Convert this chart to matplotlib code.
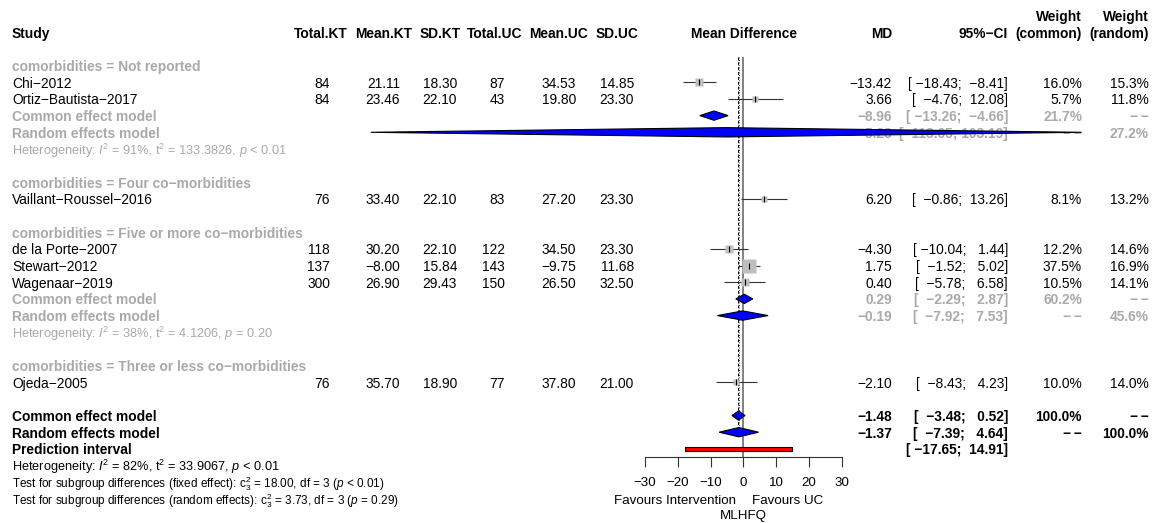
import numpy as np
import matplotlib.pyplot as plt
from matplotlib.patches import Polygon, Rectangle

plt.rcParams['font.family'] = ['Liberation Sans', 'DejaVu Sans']
plt.rcParams['mathtext.fontset'] = 'custom'
plt.rcParams['mathtext.rm'] = 'Liberation Sans'
plt.rcParams['mathtext.it'] = 'Liberation Sans:italic'
plt.rcParams['mathtext.bf'] = 'Liberation Sans:bold'

MINUS = '\u2212'
NONE = MINUS + '\u2009' + MINUS

# individual studies
study = ['Chi-2012', 'Ortiz-Bautista-2017', 'Vaillant-Roussel-2016', 'de la Porte-2007',
         'Stewart-2012', 'Wagenaar-2019', 'Ojeda-2005']
subgroup = ['Not reported', 'Not reported', 'Four co-morbidities',
            'Five or more co-morbidities', 'Five or more co-morbidities',
            'Five or more co-morbidities', 'Three or less co-morbidities']
total_kt = [84, 84, 76, 118, 137, 300, 76]
mean_kt = [21.11, 23.46, 33.40, 30.20, -8.00, 26.90, 35.70]
sd_kt = [18.30, 22.10, 22.10, 22.10, 15.84, 29.43, 18.90]
total_uc = [87, 43, 83, 122, 143, 150, 77]
mean_uc = [34.53, 19.80, 27.20, 34.50, -9.75, 26.50, 37.80]
sd_uc = [14.85, 23.30, 23.30, 23.30, 11.68, 32.50, 21.00]
md = [-13.42, 3.66, 6.20, -4.30, 1.75, 0.40, -2.10]
ci_lo = [-18.43, -4.76, -0.86, -10.04, -1.52, -5.78, -8.43]
ci_hi = [-8.41, 12.08, 13.26, 1.44, 5.02, 6.58, 4.23]
w_common = [16.0, 5.7, 8.1, 12.2, 37.5, 10.5, 10.0]
w_random = [15.3, 11.8, 13.2, 14.6, 16.9, 14.1, 14.0]

group_order = ['Not reported', 'Four co-morbidities', 'Five or more co-morbidities',
               'Three or less co-morbidities']

# pooled estimates within subgroups that have more than one study
sg_names = ['Not reported', 'Five or more co-morbidities']
sg_com_md = [-8.96, 0.29]
sg_com_lo = [-13.26, -2.29]
sg_com_hi = [-4.66, 2.87]
sg_com_w = [21.7, 60.2]
sg_ran_md = [-5.23, -0.19]
sg_ran_lo = [-113.65, -7.92]
sg_ran_hi = [103.19, 7.53]
sg_ran_w = [27.2, 45.6]
sg_i2 = [91, 38]
sg_tau2 = ['133.3826', '4.1206']
sg_p = ['< 0.01', '= 0.20']

# overall
com_md, com_lo, com_hi = -1.48, -3.48, 0.52
ran_md, ran_lo, ran_hi = -1.37, -7.39, 4.64
pred_lo, pred_hi = -17.65, 14.91
het_i2, het_tau2, het_p = 82, '33.9067', '< 0.01'
q_fixed, q_fixed_p = '18.00', '< 0.01'
q_random, q_random_p = '3.73', '= 0.29'
q_df = 3

xticks = [-30, -20, -10, 0, 10, 20, 30]

FS = 9.9
FS_HET = 9.2
FS_TEST = 8.5
GREY = '#a9a9a9'
W, H = 1156, 523


def m(s):
    return s.replace('-', MINUS)


def num(v):
    return m(f'{v:.2f}')


def ci(lo, hi):
    return '[' + num(lo).rjust(7) + '; ' + num(hi).rjust(6) + ']'


def pct(v):
    return f'{v:.1f}%'


fig = plt.figure(figsize=(W / 100, H / 100), dpi=100)
row_top = -1.94
row_bot = 29.45

tx = fig.add_axes([0, 0, 1, 1])
tx.set_xlim(0, W)
tx.set_ylim(row_bot, row_top)
tx.axis('off')

x0, x1 = 645.0, 841.7
fx = fig.add_axes([x0 / W, 0, (x1 - x0) / W, 1])
fx.set_xlim(-30, 30)
fx.set_ylim(row_bot, row_top)
fx.patch.set_visible(False)
for s in ['top', 'left', 'right']:
    fx.spines[s].set_visible(False)
fx.set_yticks([])


def put(x, y, s, ha='right', color='black', weight='normal', size=FS):
    tx.text(x, y + 0.08, s, ha=ha, va='center', color=color, fontweight=weight, fontsize=size)


# column headers
put(12, 0, 'Study', ha='left', weight='bold')
heads = [('Total.KT', 320.5), ('Mean.KT', 384), ('SD.KT', 440), ('Total.UC', 495),
         ('Mean.UC', 559), ('SD.UC', 617), ('Mean Difference', 744)]
for h, xc in heads:
    put(xc, 0, h, ha='center', weight='bold')
put(892, 0, 'MD', weight='bold')
put(1008, 0, m('95%-CI'), weight='bold')
put(1082, -0.98, 'Weight', weight='bold')
put(1082, 0, '(common)', weight='bold')
put(1149, -0.98, 'Weight', weight='bold')
put(1149, 0, '(random)', weight='bold')

cols_r = [330, 400, 457, 505, 576, 634]
X_MD, X_CI, X_WC, X_WR = 892, 1008, 1082, 1149

sq_max = 9.6
wmax = max(w_common)


def diamond(y, est, lo, hi, h=0.28):
    fx.add_patch(Polygon([(lo, y), (est, y - h), (hi, y), (est, y + h)], closed=True,
                         facecolor='blue', edgecolor='black', lw=0.8, clip_on=False, zorder=4))


row = 2
for g in group_order:
    put(12, row, 'comorbidities = ' + m(g), ha='left', color=GREY, weight='bold')
    row += 1
    idx = [i for i, s in enumerate(subgroup) if s == g]
    for i in idx:
        put(12, row, m(study[i]), ha='left')
        vals = [str(total_kt[i]), num(mean_kt[i]), num(sd_kt[i]),
                str(total_uc[i]), num(mean_uc[i]), num(sd_uc[i])]
        for xr, v in zip(cols_r, vals):
            put(xr, row, v)
        put(X_MD, row, num(md[i]))
        put(X_CI, row, ci(ci_lo[i], ci_hi[i]))
        put(X_WC, row, pct(w_common[i]))
        put(X_WR, row, pct(w_random[i]))
        fx.hlines(row, ci_lo[i], ci_hi[i], color='#333333', lw=0.8, zorder=2)
        fx.plot(md[i], row, 's', ms=sq_max * np.sqrt(w_common[i] / wmax),
                color='#bebebe', mec='none', zorder=3)
        fx.plot(md[i], row, '|', ms=4, mew=0.8, color='black', zorder=3)
        row += 1
    if g in sg_names:
        k = sg_names.index(g)
        put(12, row, 'Common effect model', ha='left', color=GREY, weight='bold')
        put(X_MD, row, num(sg_com_md[k]), color=GREY, weight='bold')
        put(X_CI, row, ci(sg_com_lo[k], sg_com_hi[k]), color=GREY, weight='bold')
        put(X_WC, row, pct(sg_com_w[k]), color=GREY, weight='bold')
        put(X_WR, row, NONE, color=GREY, weight='bold')
        diamond(row, sg_com_md[k], sg_com_lo[k], sg_com_hi[k])
        row += 1
        put(12, row, 'Random effects model', ha='left', color=GREY, weight='bold')
        put(X_MD, row, num(sg_ran_md[k]), color=GREY, weight='bold')
        put(X_CI, row, ci(sg_ran_lo[k], sg_ran_hi[k]), color=GREY, weight='bold')
        put(X_WC, row, NONE, color=GREY, weight='bold')
        put(X_WR, row, pct(sg_ran_w[k]), color=GREY, weight='bold')
        diamond(row, sg_ran_md[k], sg_ran_lo[k], sg_ran_hi[k])
        row += 1
        put(12, row + 0.05, f'Heterogeneity: $\\mathit{{I}}^2$ = {sg_i2[k]}%, '
            f'$\\mathrm{{t}}^2$ = {sg_tau2[k]}, $\\mathit{{p}}$ {sg_p[k]}',
            ha='left', color=GREY, size=FS_HET)
        row += 1
    row += 1

# overall pooled results
put(12, row, 'Common effect model', ha='left', weight='bold')
put(X_MD, row, num(com_md), weight='bold')
put(X_CI, row, ci(com_lo, com_hi), weight='bold')
put(X_WC, row, pct(100), weight='bold')
put(X_WR, row, NONE, weight='bold')
diamond(row, com_md, com_lo, com_hi)
row += 1
put(12, row, 'Random effects model', ha='left', weight='bold')
put(X_MD, row, num(ran_md), weight='bold')
put(X_CI, row, ci(ran_lo, ran_hi), weight='bold')
put(X_WC, row, NONE, weight='bold')
put(X_WR, row, pct(100), weight='bold')
diamond(row, ran_md, ran_lo, ran_hi)
row_ran = row
row += 1
put(12, row, 'Prediction interval', ha='left', weight='bold')
put(X_CI, row, ci(pred_lo, pred_hi), weight='bold')
fx.add_patch(Rectangle((pred_lo, row - 0.11), pred_hi - pred_lo, 0.22,
                       facecolor='red', edgecolor='black', lw=0.8, zorder=4))
row += 1
put(12, row, f'Heterogeneity: $\\mathit{{I}}^2$ = {het_i2}%, $\\mathrm{{t}}^2$ = {het_tau2}, '
    f'$\\mathit{{p}}$ {het_p}', ha='left', size=FS_HET)
put(12, row + 1, f'Test for subgroup differences (fixed effect): $\\mathrm{{c}}_{q_df}^2$ = '
    f'{q_fixed}, df = {q_df} ($\\mathit{{p}}$ {q_fixed_p})', ha='left', size=FS_TEST)
put(12, row + 2, f'Test for subgroup differences (random effects): $\\mathrm{{c}}_{q_df}^2$ = '
    f'{q_random}, df = {q_df} ($\\mathit{{p}}$ {q_random_p})', ha='left', size=FS_TEST)

# reference and pooled-effect lines
axis_row = 25.5
fx.vlines(0, 1.5, axis_row, color='#777777', lw=1.3, zorder=1)
fx.vlines(com_md, 1.5, row_ran, color='black', lw=0.7, linestyles=(0, (3, 2)), zorder=1)
fx.vlines(ran_md, 1.5, row_ran, color='black', lw=0.6, linestyles=(0, (1, 2)), zorder=1)

# x axis
fx.spines['bottom'].set_position(('data', axis_row))
fx.spines['bottom'].set_bounds(-30, 30)
fx.spines['bottom'].set_color('#333333')
fx.spines['bottom'].set_linewidth(0.8)
fx.set_xticks(xticks)
fx.set_xticklabels([m(str(t)) for t in xticks])
fx.tick_params(axis='x', direction='out', length=7.5, width=0.8, color='#333333',
               labelsize=9.6, pad=6.5)
fx.text(-2.2, 28.15, 'Favours Intervention', ha='right', va='center', fontsize=9.6)
fx.text(2.6, 28.15, 'Favours UC', ha='left', va='center', fontsize=9.6)
fx.text(0, 29.05, 'MLHFQ', ha='center', va='center', fontsize=9.6)

fig.savefig('out.png', dpi=100)
